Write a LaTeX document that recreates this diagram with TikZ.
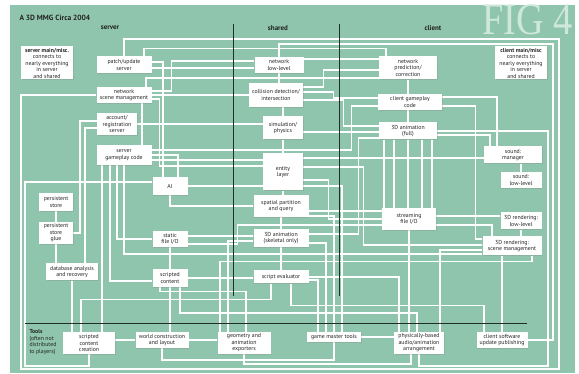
\documentclass[tikz,border=0pt]{standalone}
\usepackage{fontspec}
\setmainfont{PT Sans}
\newfontfamily\figfont[FakeStretch=0.85]{Liberation Serif}
\usetikzlibrary{shadows}
\definecolor{boardgreen}{RGB}{142,197,172}
\definecolor{figtint}{RGB}{208,232,220}
\definecolor{divline}{RGB}{34,46,40}
\definecolor{boxtext}{RGB}{35,35,35}
\pgfdeclarelayer{board}
\pgfdeclarelayer{wires}
\pgfsetlayers{board,wires,main}
\tikzset{
  box/.style={fill=white, inner sep=1pt, align=center, text=boxtext,
    font=\fontsize{5.8}{6.5}\selectfont,
    drop shadow={shadow xshift=0.7pt, shadow yshift=-0.7pt, opacity=0.25}},
  wire/.style={draw=white, line width=1.4pt},
  divider/.style={draw=divline, line width=1pt},
  header/.style={font=\bfseries\fontsize{7}{8}\selectfont, text=boxtext}
}
\begin{document}
\begin{tikzpicture}[x=1pt, y=-1pt]
\useasboundingbox (0,0) rectangle (579,374);
\begin{pgfonlayer}{board}
\fill[white] (0,0) rectangle (579,374);
\fill[boardgreen] (10,5) rectangle (575,373);
\end{pgfonlayer}
\node[font=\figfont\fontsize{45}{45}\selectfont, text=figtint, anchor=base east] (fig) at (576,35) {FIG 4};
\node[font=\bfseries\fontsize{7.5}{8}\selectfont, text=boxtext, anchor=west] (title) at (16,18) {A 3D MMG Circa 2004};
\node[header] (hserver) at (110,28) {server};
\node[header] (hshared) at (278,28) {shared};
\node[header] (hclient) at (433,28) {client};
% column and tools dividers
\draw[divider] (233,24) -- (233,296);
\draw[divider] (339,24) -- (339,296);
\draw[divider] (25,324) -- (527,324);
\node[anchor=north west, align=left, text=boxtext, font=\fontsize{5.8}{6.5}\selectfont] (tools) at (26,326) {\textbf{Tools}\\(often not\\distributed\\to players)};

% server
\node[box, minimum width=52pt, minimum height=33pt] (srvmain) at (47,63) {\textbf{server main/misc.}\\connects to\\nearly everything\\in server\\and shared};
\node[box, minimum width=55pt, minimum height=17pt] (patch) at (124,65) {patch/update\\server};
\node[box, minimum width=55pt, minimum height=16pt] (netscene) at (124,95) {network\\scene management};
\node[box, minimum width=40pt, minimum height=22pt] (account) at (117,124) {account/\\registration\\server};
\node[box, minimum width=55pt, minimum height=20pt] (srvgame) at (124,155) {server\\gameplay code};
\node[box, minimum width=35pt, minimum height=18pt] (ai) at (170,186) {AI};
\node[box, minimum width=34pt, minimum height=18pt] (pstore) at (56,202) {persistent\\store};
\node[box, minimum width=34pt, minimum height=22pt] (pglue) at (56,233) {persistent\\store\\glue};
\node[box, minimum width=52pt, minimum height=17pt] (dbase) at (72,272) {database analysis\\and recovery};
\node[box, minimum width=35pt, minimum height=16pt] (sfile) at (170,239) {static\\file I/O};
\node[box, minimum width=35pt, minimum height=18pt] (scont) at (170,278) {scripted\\content};

% shared
\node[box, minimum width=49pt, minimum height=16pt] (netlow) at (279,65) {network\\low-level};
\node[box, minimum width=54pt, minimum height=24pt] (collide) at (276,95) {collision detection/\\intersection};
\node[box, minimum width=40pt, minimum height=23pt] (sim) at (283,128) {simulation/\\physics};
\node[box, minimum width=40pt, minimum height=37pt] (entity) at (283,172) {entity\\layer};
\node[box, minimum width=55pt, minimum height=22pt] (spatial) at (281,206) {spatial partition\\and query};
\node[box, minimum width=55pt, minimum height=18pt] (anim3d) at (281,238) {3D animation\\(skeletal only)};
\node[box, minimum width=55pt, minimum height=13pt] (scripteval) at (281,277) {script evaluator};

% client
\node[box, minimum width=58pt, minimum height=23pt] (netpred) at (408,68) {network\\prediction/\\correction};
\node[box, minimum width=64pt, minimum height=16pt] (cligame) at (410,102) {client gameplay\\code};
\node[box, minimum width=58pt, minimum height=17pt] (animfull) at (408,131) {3D animation\\(full)};
\node[box, minimum width=52pt, minimum height=33pt] (climain) at (521,63) {\textbf{client main/misc}\\connects to\\nearly everything\\in server\\and shared};
\node[box, minimum width=58pt, minimum height=17pt] (sndmgr) at (513,155) {sound:\\manager};
\node[box, minimum width=41pt, minimum height=16pt] (sndlow) at (521,180) {sound:\\low-level};
\node[box, minimum width=54pt, minimum height=22pt] (stream) at (409,219) {streaming\\file I/O};
\node[box, minimum width=41pt, minimum height=17pt] (rendlow) at (521,221) {3D rendering:\\low-level};
\node[box, minimum width=59pt, minimum height=19pt] (rendscene) at (512,246) {3D rendering:\\scene management};

% tools
\node[box, minimum width=52pt, minimum height=22pt] (sccreate) at (89,343) {scripted\\content\\creation};
\node[box, minimum width=53pt, minimum height=16pt] (world) at (162,340) {world construction\\and layout};
\node[box, minimum width=53pt, minimum height=22pt] (geom) at (244,343) {geometry and\\animation\\exporters};
\node[box, minimum width=54pt, minimum height=10pt] (gmtools) at (334,337) {game master tools};
\node[box, minimum width=50pt, minimum height=22pt] (physaudio) at (419,343) {physically-based\\audio/animation\\arrangement};
\node[box, minimum width=51pt, minimum height=16pt] (cliupd) at (502,340) {client software\\update publishing};

\begin{pgfonlayer}{wires}
% server wires
\draw[wire] (patch.north) |- (559,39) |- (21,369) |- (netscene.west);
\draw[wire] ([yshift=-3pt]patch.east) -- ([yshift=-3pt]patch.east -| netlow.west);
\draw[wire] ([yshift=3pt]patch.east) -| ([xshift=-7pt]ai.north);
\draw[wire] ([xshift=20pt]patch.north) -- ++(0,-8) -| ([xshift=-22pt]netpred.north);
\draw[wire] ([xshift=18pt]netscene.south) -- ([xshift=18pt]srvgame.north);
\draw[wire] (netscene.east) -- (netscene.east -| collide.west);
\draw[wire] ([yshift=-4pt]netscene.east) -- ++(8,0) |- ([yshift=6pt]entity.west);
\draw[wire] ([yshift=4pt]netscene.east) -- ++(20,0) |- ([yshift=4pt]netlow.west);
\draw[wire] ([xshift=22pt]netscene.north) |- ([yshift=-10pt]netpred.west);
\draw[wire] ([yshift=3pt]account.west) -- ++(-17,0) |- (pglue.east);
\draw[wire] ([yshift=-4pt]account.west) -| ([xshift=13pt]dbase.north);
\draw[wire] (account.east) -- (account.east -| sim.west);
\draw[wire] (pstore.south) -- (pglue.north);
\draw[wire] (pglue.south) -- (pglue.south |- dbase.north);
\draw[wire] (dbase.south) -- (dbase.south |- sccreate.north);
\draw[wire] ([xshift=-22pt]srvgame.south) -- ([xshift=-22pt]srvgame.south |- sccreate.north);
\draw[wire] ([xshift=-14pt]srvgame.south) |- ([yshift=-3pt]scont.west);
\draw[wire] ([xshift=-7pt]srvgame.south) |- (sfile.west);
\draw[wire] (srvgame.south) |- ([yshift=-8pt]rendscene.west);
\draw[wire] (srvgame.east) -| ([xshift=8pt]ai.north);
\draw[wire] ([yshift=-5pt]srvgame.east) -- ([yshift=-5pt]srvgame.east -| entity.west);
\draw[wire] ([yshift=5pt]srvgame.east) -- ++(200,0) |- ([yshift=-4pt]cligame.west);
\draw[wire] ([yshift=4pt]ai.west) -| (25,366) -| (sccreate.south);
\draw[wire] (ai.east) -- (ai.east -| entity.west);
\draw[wire] (ai.south) |- (spatial.west);
\draw[wire] ([yshift=3pt]sfile.east) -- ([yshift=3pt]sfile.east -| anim3d.west);
\draw[wire] ([yshift=-5pt]sfile.east) -- ++(50,0) |- ([yshift=-6pt]stream.west);
\draw[wire] (sfile.south) -- (scont.north);
\draw[wire] (scont.east) -- (scont.east -| scripteval.west);
\draw[wire] (scont.south) -- (scont.south |- world.north);
\draw[wire] ([xshift=10pt]scont.south) -- ++(0,26) -| ([xshift=-2pt]physaudio.north);

% shared wires
\draw[wire] (netlow.south) -- (netlow.south |- collide.north);
\draw[wire] (sim.north |- collide.south) -- (sim.north);
\draw[wire] (sim.south) -- (entity.north);
\draw[wire] (entity.south) -- (entity.south |- spatial.north);
\draw[wire] (spatial.south) -- (spatial.south |- anim3d.north);
\draw[wire] (anim3d.south) -- (anim3d.south |- scripteval.north);
\draw[wire] ([yshift=6pt]netlow.east) -- ([yshift=6pt]netlow.east -| netpred.west);
\draw[wire] (netlow.north) |- (553,44) |- (cliupd.east);
\draw[wire] ([yshift=8pt]collide.east) -- ++(20,0) |- ([yshift=-2pt]netpred.west);
\draw[wire] ([yshift=3pt]collide.east) -- ++(30,0) |- ([yshift=4pt]cligame.west);
\draw[wire] ([yshift=-5pt]collide.east) -- ++(40,0) |- ([yshift=5pt]animfull.west);
\draw[wire] ([yshift=-4pt]sim.east) -- ([yshift=-4pt]sim.east -| animfull.west);
\draw[wire] ([yshift=14pt]entity.east) -- ([yshift=14pt]entity.east -| sndmgr.west);
\draw[wire] ([yshift=5pt]entity.east) -- ++(60,0) |- ([yshift=1pt]rendscene.west);
\draw[wire] ([yshift=-8pt]entity.east) -- ++(25,0) |- (stream.west);
\draw[wire] ([yshift=-5pt]spatial.east) -- ([yshift=-5pt]spatial.east -| stream.west);
\draw[wire] ([yshift=4pt]anim3d.east) -- ++(50,0) |- ([yshift=-7pt]animfull.west);
\draw[wire] (scripteval.east) -| ([xshift=-20pt]physaudio.north);
\draw[wire] ([xshift=10pt]scripteval.south) -- ++(0,22) -| ([xshift=-18pt]cliupd.north);

% tools wires
\draw[wire] ([xshift=-16pt]geom.north) |- ([yshift=-3pt]anim3d.west);
\draw[wire] ([xshift=-24pt]geom.north) -- ++(0,-70) -| ([xshift=20pt]rendscene.south);
\draw[wire] ([xshift=2pt]geom.north) -- ++(0,-40) -| ([xshift=-10pt]scont.south);
\draw[wire] ([xshift=-16pt]gmtools.north) |- ([yshift=-3pt]scripteval.east);
\draw[wire] ([xshift=-8pt]gmtools.north) |- ([yshift=-5pt]anim3d.east);
\draw[wire] (gmtools.north) |- ([yshift=-10pt]spatial.east);
\draw[wire] ([xshift=8pt]gmtools.north) |- ([yshift=-14pt]entity.east);
\draw[wire] (gmtools.east) -- (gmtools.east -| physaudio.west);
\draw[wire] (world.west) -- (world.west -| sccreate.east);
\draw[wire] (world.east) -- (world.east -| geom.west);
\draw[wire] (world.south) -- ++(0,12) -| (gmtools.south);
\draw[wire] ([xshift=-8pt]sccreate.north) -- ++(0,-32) -| ([xshift=-10pt]scripteval.south);
\draw[wire] (stream.south) -- (stream.south |- physaudio.north);
\draw[wire] ([xshift=21pt]physaudio.north) |- ([yshift=-4pt]rendscene.west);
\draw[wire] ([xshift=-8pt]physaudio.south) -- ++(0,10) -| (geom.south);

% client wires
\draw[wire] (animfull.east) -| (548,366) -| (physaudio.south);
\draw[wire] (netpred.south) -- (netpred.south |- cligame.north);
\draw[wire] (animfull.north) -- (animfull.north |- cligame.south);
\draw[wire] ([yshift=5pt]cligame.east) -| ([xshift=-16pt]sndmgr.north);
\draw[wire] ([yshift=-4pt]cligame.east) -- ++(33,0) |- ([yshift=7pt]rendscene.west);
\draw[wire] ([xshift=-24pt]animfull.south) -- ([xshift=-24pt]animfull.south |- stream.north);
\draw[wire] ([xshift=-14pt]animfull.south) -- ([xshift=-14pt]animfull.south |- stream.north);
\draw[wire] (animfull.south) -- (animfull.south |- stream.north);
\draw[wire] ([xshift=14pt]animfull.south) -- ([xshift=14pt]animfull.south |- stream.north);
\draw[wire] ([xshift=24pt]animfull.south) -- ([xshift=24pt]animfull.south |- stream.north);
\draw[wire] ([yshift=-4pt]animfull.east) -| ([xshift=-23pt]sndmgr.north);
\draw[wire] (sndlow.north) -- (sndlow.north |- sndmgr.south);
\draw[wire] (rendlow.south) -- (rendlow.south |- rendscene.north);
\draw[wire] (cliupd.north) -- (cliupd.north |- rendscene.south);
\draw[wire] ([yshift=3pt]stream.east) -- ([yshift=3pt]stream.east -| rendlow.west);
\draw[wire] ([yshift=-6pt]stream.east) -| ([xshift=-20pt]rendscene.north);
\end{pgfonlayer}
\end{tikzpicture}
\end{document}
